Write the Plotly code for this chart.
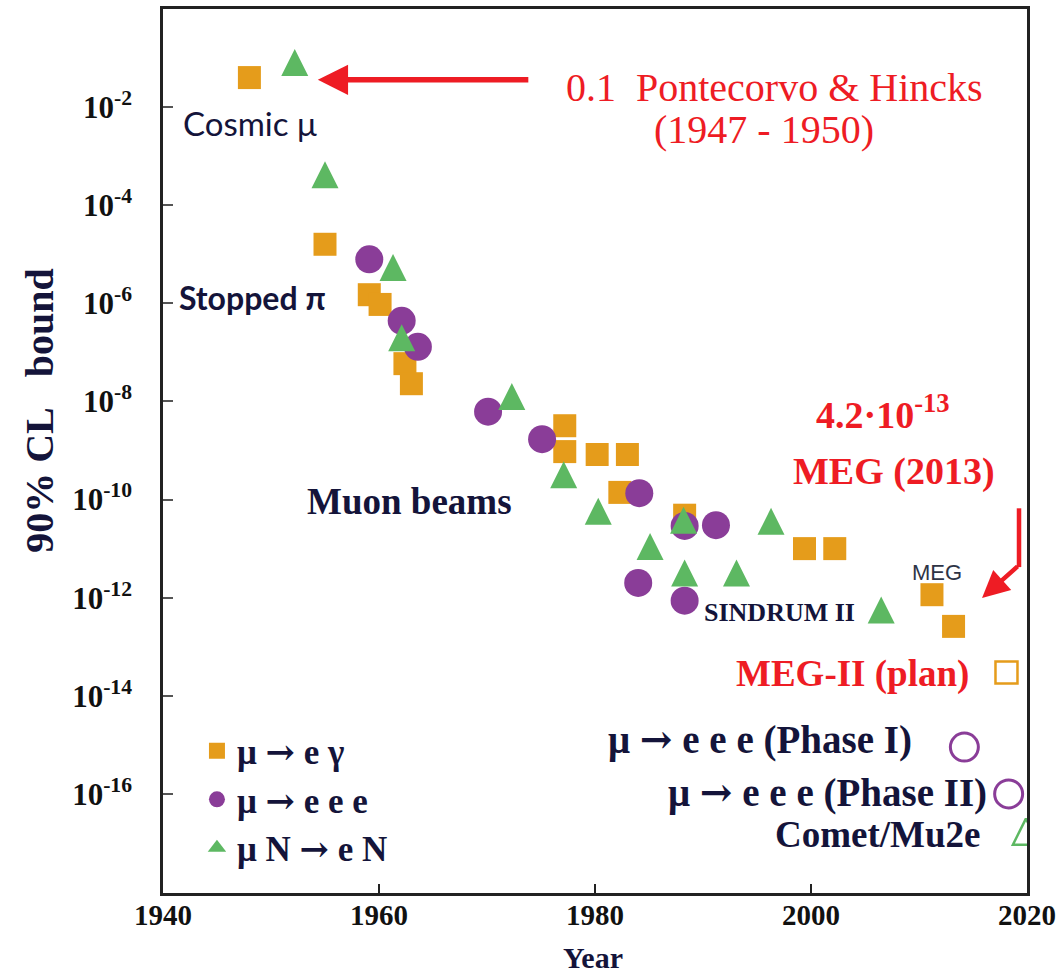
import plotly.graph_objects as go

# ---------------- data ----------------
meg_years = [1948.0, 1955.0, 1959.1, 1960.1, 1962.4, 1963.0, 1977.2, 1977.2,
             1980.2, 1983.0, 1982.3, 1988.3, 1999.4, 2002.2, 2011.2, 2013.2]
meg_bound = [4e-2, 1.6e-5, 1.5e-6, 9.5e-7, 5.9e-8, 2.3e-8, 3.2e-9, 9.5e-10,
             8.3e-10, 8.3e-10, 1.4e-10, 4.8e-11, 1.0e-11, 1.0e-11, 1.15e-12, 2.6e-13]

mu3e_years = [1959.1, 1962.1, 1963.6, 1970.1, 1975.1, 1984.1, 1988.3, 1991.2, 1984.0, 1988.3]
mu3e_bound = [7.9e-6, 4.4e-7, 1.3e-7, 6.2e-9, 1.7e-9, 1.35e-10, 2.9e-11, 3.0e-11, 2.0e-12, 8.7e-13]

conv_years = [1952.2, 1955.0, 1961.3, 1962.1, 1972.3, 1977.1, 1980.3, 1985.1,
              1988.2, 1988.3, 1993.1, 1996.3, 2006.5]
conv_bound = [8.1e-2, 4.2e-4, 5.4e-6, 2.0e-7, 1.26e-8, 3.2e-10, 5.8e-11, 1.1e-11,
              3.8e-11, 3.2e-12, 3.2e-12, 3.6e-11, 5.6e-13]

plan_meg_years = [2018.1]
plan_meg_bound = [3e-14]
plan_mu3e_years = [2014.2, 2018.3]
plan_mu3e_bound = [9e-16, 1e-16]
plan_conv_years = [2019.9]
plan_conv_bound = [1.7e-17]

x_tickvals = [1940, 1960, 1980, 2000, 2020]
y_exponents = [-2, -4, -6, -8, -10, -12, -14, -16]

ARROW = '<span style="font-family:DejaVu Serif">→</span>'
names = [f"μ {ARROW} e γ", f"μ {ARROW} e e e", f"μ N {ARROW} e N"]

# ---------------- style ----------------
ORANGE = "#E59C1B"
PURPLE = "#8A3D98"
GREEN = "#5DB862"
RED = "#EE1C24"
NAVY = "#14143A"
SERIF = "Liberation Serif"
SANS = "Lato"

X0, X1, Y0, Y1 = 163, 1028, 6, 893   # plot area in pixels


def px(x):
    return (x - X0) / (X1 - X0)


def py(y):
    return 1 - (y - Y0) / (Y1 - Y0)


fig = go.Figure()

fig.add_trace(go.Scatter(x=meg_years, y=meg_bound, mode="markers", name=names[0],
                         legendgroup="a", legendrank=1,
                         marker=dict(symbol="square", size=23, color=ORANGE)))
fig.add_trace(go.Scatter(x=mu3e_years, y=mu3e_bound, mode="markers", name=names[1],
                         legendgroup="b", legendrank=2,
                         marker=dict(symbol="circle", size=28, color=PURPLE)))
fig.add_trace(go.Scatter(x=conv_years, y=conv_bound, mode="markers", name=names[2],
                         legendgroup="c", showlegend=False,
                         marker=dict(symbol="arrow-down", angle=180, standoff=13.5,
                                     size=27, color=GREEN)))
# legend entry for the conversion series (plain up-triangle key, no data drawn)
fig.add_trace(go.Scatter(x=[None], y=[None], mode="markers", name=names[2],
                         legendgroup="c", legendrank=3,
                         marker=dict(symbol="triangle-up", size=27, color=GREEN)))

fig.add_trace(go.Scatter(x=plan_meg_years, y=plan_meg_bound, mode="markers", showlegend=False,
                         marker=dict(symbol="square-open", size=22, color=ORANGE,
                                     line=dict(width=2.5, color=ORANGE))))
fig.add_trace(go.Scatter(x=plan_mu3e_years, y=plan_mu3e_bound, mode="markers", showlegend=False,
                         marker=dict(symbol="circle-open", size=28, color=PURPLE,
                                     line=dict(width=3, color=PURPLE))))
fig.add_trace(go.Scatter(x=plan_conv_years, y=plan_conv_bound, mode="markers", showlegend=False,
                         marker=dict(symbol="arrow-down-open", angle=180, standoff=13,
                                     size=26, color=GREEN, line=dict(width=2.5, color=GREEN))))

ann = []


def text(x, y, s, size, color=NAVY, family=SERIF, anchor="left", **kw):
    ann.append(dict(x=px(x), y=py(y), xref="paper", yref="paper", text=s, showarrow=False,
                    xanchor=anchor, yanchor="middle",
                    font=dict(family=family, size=size, color=color), **kw))


text(181, 120, "Cosmic μ", 33, family=SANS)
text(177, 295, "<b>Stopped π</b>", 32, family=SANS)
text(305, 500, "<b>Muon beams</b>", 37)
text(775, 85, "0.1  Pontecorvo &amp; Hincks", 40, color=RED, anchor="center")
text(765, 127, "(1947 - 1950)", 40, color=RED, anchor="center")
text(884, 410, "<b>4.2·10<sup>-13</sup></b>", 38, color=RED, anchor="center")
text(895, 470, "<b>MEG (2013)</b>", 38, color=RED, anchor="center")
text(938, 571, "MEG", 22, color="#2E3446", family="Liberation Sans", anchor="center")
text(780, 612, "<b>SINDRUM II</b>", 26, anchor="center")
text(972, 673, "<b>MEG-II (plan)</b>", 37, color=RED, anchor="right")
text(915, 738, f"<b>μ {ARROW} e e e (Phase I)</b>", 39, anchor="right")
text(990, 792, f"<b>μ {ARROW} e e e (Phase II)</b>", 39, anchor="right")
text(984, 834, "<b>Comet/Mu2e</b>", 37, anchor="right")

# axis titles
ann.append(dict(x=px(39), y=py(409), xref="paper", yref="paper",
                text="<b>90% CL&nbsp;&nbsp; bound</b>",
                showarrow=False, textangle=-90, xanchor="center", yanchor="middle",
                font=dict(family=SERIF, size=40, color=NAVY)))
ann.append(dict(x=px(593), y=py(958), xref="paper", yref="paper", text="<b>Year</b>",
                showarrow=False, xanchor="center", yanchor="middle",
                font=dict(family=SERIF, size=30, color=NAVY)))

# arrows
ann.append(dict(x=px(318), y=py(77), xref="paper", yref="paper", text="", showarrow=True,
                ax=212, ay=0, arrowhead=2, arrowsize=1.1, arrowwidth=5.5, arrowcolor=RED))
ann.append(dict(x=px(983), y=py(597), xref="paper", yref="paper", text="", showarrow=True,
                ax=37, ay=-33, arrowhead=2, arrowsize=1.2, arrowwidth=4.5, arrowcolor=RED))

shapes = [dict(type="line", xref="paper", yref="paper", x0=px(1020), x1=px(1020),
               y0=py(507), y1=py(566), line=dict(color=RED, width=4.5))]

fig.update_layout(
    width=1062, height=973,
    margin=dict(l=X0, r=1062 - X1, t=Y0, b=973 - Y1),
    paper_bgcolor="white", plot_bgcolor="white",
    showlegend=True,
    legend=dict(x=px(197), y=py(721), xanchor="left", yanchor="top",
                bgcolor="rgba(0,0,0,0)",
                font=dict(family=SERIF, size=35, color=NAVY, weight="bold"),
                itemsizing="trace", tracegroupgap=0, traceorder="normal"),
    annotations=ann,
    shapes=shapes,
)

fig.update_xaxes(range=[1940, 2020], tickvals=x_tickvals, ticks="inside", ticklen=9,
                 tickwidth=2, tickcolor="#222", showgrid=False, zeroline=False,
                 showline=True, linecolor="#222", linewidth=2.5, mirror=True,
                 tickfont=dict(family=SERIF, size=29, color="#111", weight="bold"),
                 ticklabelstandoff=-6)
fig.update_yaxes(type="log", range=[-18.02, 0], tickvals=[10.0 ** e for e in y_exponents],
                 ticktext=[f"<b>10<sup>{e}</sup></b>" for e in y_exponents],
                 ticks="inside", ticklen=10, tickwidth=2, tickcolor="#555",
                 showgrid=False, zeroline=False, showline=True, linecolor="#222",
                 linewidth=2.5, mirror=True,
                 tickfont=dict(family=SERIF, size=31, color="#111"),
                 ticklabelstandoff=22)

fig.write_html("out.html")
